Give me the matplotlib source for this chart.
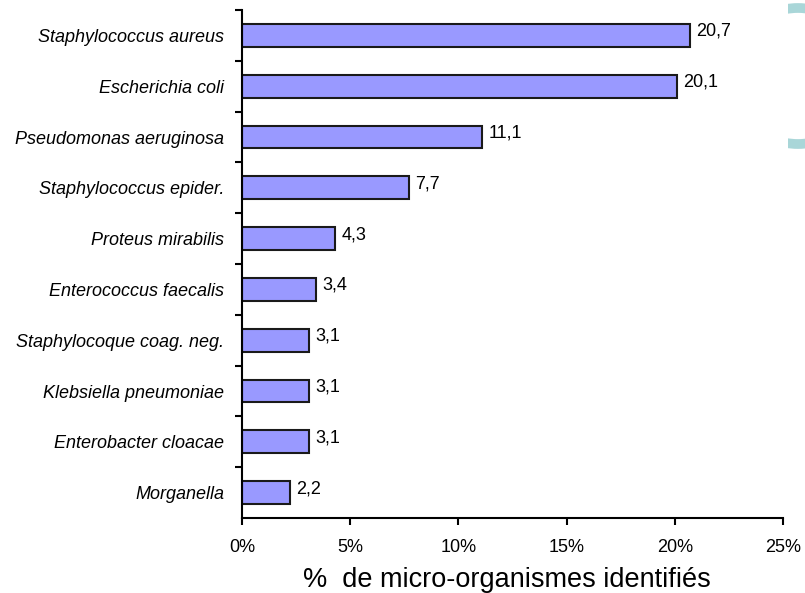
import matplotlib
matplotlib.use("Agg")
from matplotlib import pyplot as plt
from matplotlib.patches import Circle, Rectangle

organismes = ["Staphylococcus aureus", "Escherichia coli", "Pseudomonas aeruginosa",
              "Staphylococcus epider.", "Proteus mirabilis", "Enterococcus faecalis",
              "Staphylocoque coag. neg.", "Klebsiella pneumoniae", "Enterobacter cloacae",
              "Morganella"]
pourcentages = [20.7, 20.1, 11.1, 7.7, 4.3, 3.4, 3.1, 3.1, 3.1, 2.2]
ticks_x = [0, 5, 10, 15, 20, 25]

plt.rcParams["font.family"] = ["Liberation Sans", "DejaVu Sans"]

W, H = 805, 593
fig = plt.figure(figsize=(W / 100, H / 100), dpi=100)
ax = fig.add_axes([242 / W, 1 - 518 / H, 541 / W, 508 / H])

pos = list(range(len(organismes)))[::-1]
ax.barh(pos, pourcentages, height=0.45, color="#9999ff", edgecolor="#1a1a1a", linewidth=1.5)

for y, v in zip(pos, pourcentages):
    ax.text(v + 0.3, y + 0.08, f"{v:.1f}".replace(".", ","), va="center", ha="left", fontsize=13)

ax.set_xlim(0, 25)
ax.set_ylim(-0.5, len(organismes) - 0.5)
ax.set_xticks(ticks_x)
ax.set_xticklabels([f"{t}%" for t in ticks_x], fontsize=13)
ax.set_yticks(pos)
ax.set_yticklabels(organismes, fontsize=13, style="italic")
ax.tick_params(axis="y", length=0, pad=13)
ax.set_yticks([p + 0.5 for p in range(len(organismes))], minor=True)
ax.tick_params(axis="y", which="minor", length=5, width=1.5, direction="out")
ax.tick_params(axis="x", length=5, width=1.5, direction="out", pad=10)

for s in ["top", "right"]:
    ax.spines[s].set_visible(False)
for s in ["left", "bottom"]:
    ax.spines[s].set_linewidth(1.5)

ax.set_xlabel("%  de micro-organismes identifiés", fontsize=19.5)
ax.xaxis.set_label_coords(0.49, -0.097)

# slide decoration behind the chart, only visible at the right edge
ring = Circle((798, H - 76), 68, transform=None, fill=False,
              edgecolor="#a9d6d8", linewidth=7)
clip = Rectangle((788, 0), W - 788, H, transform=None)
ring.set_clip_path(clip)
fig.add_artist(ring)

fig.savefig("out.png", dpi=100)
